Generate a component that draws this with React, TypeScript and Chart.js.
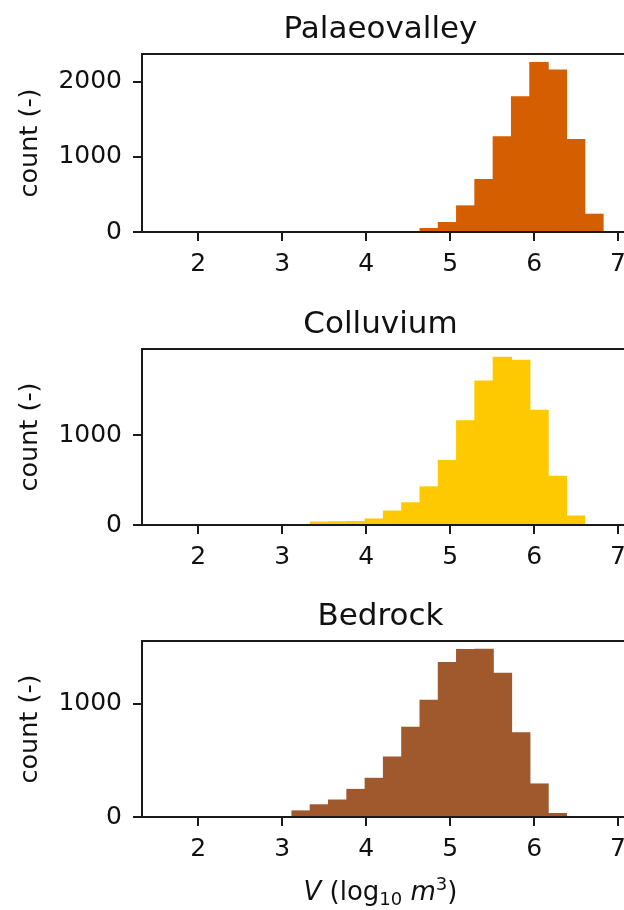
import React, { useEffect, useRef } from "react";
import { Chart, registerables } from "chart.js";

Chart.register(...registerables);

// ---- data ----
const BIN_EDGES = [
  1.591, 1.809, 2.027, 2.245, 2.463, 2.681, 2.898, 3.116, 3.334, 3.552, 3.77, 3.988, 4.206,
  4.424, 4.642, 4.86, 5.077, 5.295, 5.513, 5.731, 5.949, 6.167, 6.385, 6.603, 6.821,
];
const X_TICKS = [2, 3, 4, 5, 6, 7];

const PALAEOVALLEY_COUNTS = [
  0, 0, 0, 0, 0, 0, 0, 0, 0, 0, 0, 0, 0, 0, 45, 125, 347, 698, 1267, 1800, 2259, 2156, 1232, 236,
];
const COLLUVIUM_COUNTS = [
  0, 0, 0, 0, 0, 0, 0, 0, 32, 35, 38, 66, 154, 246, 423, 717, 1158, 1599, 1863, 1830, 1275, 540, 99, 0,
];
const BEDROCK_COUNTS = [
  0, 0, 0, 0, 0, 0, 0, 53, 107, 149, 243, 341, 528, 792, 1029, 1364, 1477, 1480, 1269, 742, 291, 30, 0, 0,
];

const Y_TICKS_PALAEOVALLEY = [0, 1000, 2000];
const Y_TICKS_COLLUVIUM = [0, 1000];
const Y_TICKS_BEDROCK = [0, 1000];

const TITLES = ["Palaeovalley", "Colluvium", "Bedrock"];
const Y_LABEL = "count (-)";

// ---- styling / layout ----
const FONT = '"DejaVu Sans", "Liberation Sans", sans-serif';
const INK = "#111111";
const CANVAS_W = 650;
const AREA_LEFT = 142;
const AREA_RIGHT = 625;
const AREA_TOP = 54;

type PanelDef = {
  title: string;
  counts: number[];
  yTicks: number[];
  color: string;
  top: number;
  height: number;
  areaBottom: number;
  xlabel: boolean;
};

const PANELS: PanelDef[] = [
  { title: TITLES[0], counts: PALAEOVALLEY_COUNTS, yTicks: Y_TICKS_PALAEOVALLEY, color: "#d55e00", top: 0, height: 295, areaBottom: 232, xlabel: false },
  { title: TITLES[1], counts: COLLUVIUM_COUNTS, yTicks: Y_TICKS_COLLUVIUM, color: "#ffc900", top: 295, height: 292, areaBottom: 230, xlabel: false },
  { title: TITLES[2], counts: BEDROCK_COUNTS, yTicks: Y_TICKS_BEDROCK, color: "#a0582d", top: 587, height: 323, areaBottom: 230, xlabel: true },
];

const framePlugin = {
  id: "frame",
  afterDraw(chart: any, _args: any, opts: any) {
    const { ctx, chartArea: a } = chart;
    ctx.save();
    ctx.strokeStyle = "#1a1a1a";
    ctx.lineWidth = 2;
    ctx.strokeRect(a.left, a.top, a.right - a.left, a.bottom - a.top);

    ctx.fillStyle = INK;
    ctx.font = `31px ${FONT}`;
    ctx.textAlign = "center";
    ctx.textBaseline = "alphabetic";
    ctx.fillText(opts.title, (a.left + a.right) / 2 - 3, a.top - 16);

    if (opts.xlabel) {
      const base = a.bottom + 83;
      const cx = (a.left + a.right) / 2 - 3;
      const segs = [
        { t: "V", f: `italic 26px ${FONT}`, dy: 0 },
        { t: " (log", f: `26px ${FONT}`, dy: 0 },
        { t: "10", f: `18px ${FONT}`, dy: 5 },
        { t: " ", f: `26px ${FONT}`, dy: 0 },
        { t: "m", f: `italic 26px ${FONT}`, dy: 0 },
        { t: "3", f: `18px ${FONT}`, dy: -10 },
        { t: ")", f: `26px ${FONT}`, dy: 0 },
      ];
      let total = 0;
      const widths = segs.map((s) => {
        ctx.font = s.f;
        const w = ctx.measureText(s.t).width;
        total += w;
        return w;
      });
      let x = cx - total / 2;
      ctx.textAlign = "left";
      segs.forEach((s, i) => {
        ctx.font = s.f;
        ctx.fillText(s.t, x, base + s.dy);
        x += widths[i];
      });
    }
    ctx.restore();
  },
};

function Panel({ def }: { def: PanelDef }) {
  const ref = useRef<HTMLCanvasElement>(null);
  useEffect(() => {
    if (!ref.current) return;
    const centers = def.counts.map((_, i) => (BIN_EDGES[i] + BIN_EDGES[i + 1]) / 2);
    const data = def.counts.map((c, i) => ({ x: centers[i], y: c }));
    const lo = BIN_EDGES[0];
    const hi = BIN_EDGES[BIN_EDGES.length - 1];
    const span = hi - lo;
    const yMax = Math.max(...def.counts) * 1.05;
    const xAxisHeight = def.height - def.areaBottom;

    const chart = new Chart(ref.current, {
      type: "bar",
      data: {
        datasets: [
          {
            data,
            backgroundColor: def.color,
            borderWidth: 0,
            barPercentage: 1,
            categoryPercentage: 1,
            inflateAmount: 0.6,
          } as any,
        ],
      },
      plugins: [framePlugin],
      options: {
        animation: false,
        responsive: false,
        devicePixelRatio: 1,
        layout: { padding: { left: 0, top: AREA_TOP, right: CANVAS_W - AREA_RIGHT, bottom: 0 } },
        plugins: {
          legend: { display: false },
          tooltip: { enabled: false },
          frame: { title: def.title, xlabel: def.xlabel },
        } as any,
        scales: {
          x: {
            type: "linear",
            min: lo - 0.05 * span,
            max: hi + 0.05 * span,
            offset: false,
            afterBuildTicks: (s: any) => {
              s.ticks = X_TICKS.map((v) => ({ value: v }));
            },
            afterFit: (s: any) => {
              s.height = xAxisHeight;
            },
            grid: { display: true, offset: false, drawOnChartArea: false, drawTicks: true, tickLength: 9, lineWidth: 2, color: "#1a1a1a" },
            border: { display: false },
            ticks: {
              padding: 8,
              color: INK,
              font: { family: FONT, size: 25 },
              maxRotation: 0,
              autoSkip: false,
              callback: (v: any) => String(v),
            },
          },
          y: {
            type: "linear",
            min: 0,
            max: yMax,
            afterBuildTicks: (s: any) => {
              s.ticks = def.yTicks.map((v) => ({ value: v }));
            },
            afterFit: (s: any) => {
              s.width = AREA_LEFT;
            },
            grid: { display: true, offset: false, drawOnChartArea: false, drawTicks: true, tickLength: 9, lineWidth: 2, color: "#1a1a1a" },
            border: { display: false },
            ticks: {
              padding: 11,
              color: INK,
              font: { family: FONT, size: 25 },
              autoSkip: false,
              callback: (v: any) => String(v),
            },
            title: {
              display: true,
              text: Y_LABEL,
              color: INK,
              font: { family: FONT, size: 25.5 },
              padding: { top: 15, bottom: 0 },
            },
          },
        },
      } as any,
    });
    return () => chart.destroy();
  }, [def]);

  return (
    <div style={{ position: "absolute", left: 0, top: def.top, width: CANVAS_W, height: def.height }}>
      <canvas
        ref={ref}
        width={CANVAS_W}
        height={def.height}
        style={{ width: CANVAS_W, height: def.height, display: "block" }}
      />
    </div>
  );
}

export default function App() {
  return (
    <div
      style={{
        position: "absolute",
        left: 0,
        top: 0,
        width: 624,
        height: 910,
        overflow: "hidden",
        background: "#ffffff",
      }}
    >
      {PANELS.map((p) => (
        <Panel key={p.title} def={p} />
      ))}
    </div>
  );
}
